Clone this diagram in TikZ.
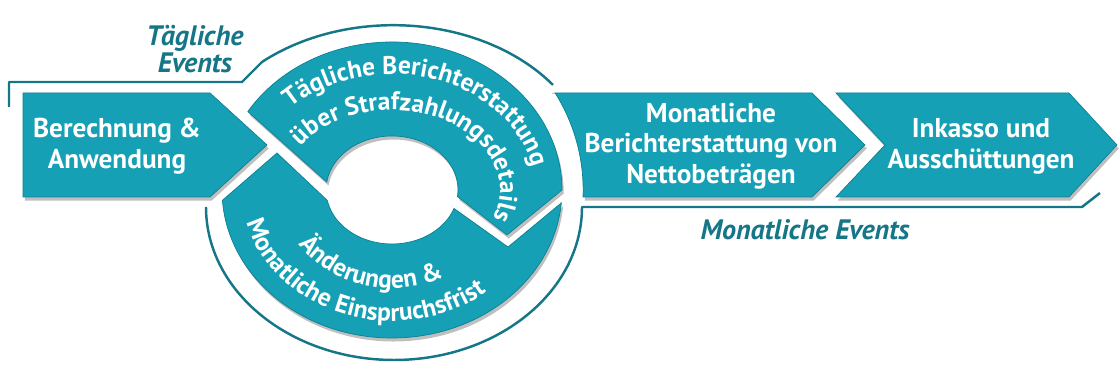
\documentclass[tikz,border=0pt]{standalone}
\usepackage{fontspec}
\setmainfont{PT Sans}
\usetikzlibrary{positioning, decorations.text, shadows}

\definecolor{penaltyteal}{RGB}{22,160,182}
\definecolor{penaltyedge}{RGB}{12,128,146}
\definecolor{labelteal}{RGB}{20,118,134}

\newcommand{\boxfont}{\fontsize{15.5}{17.5}\selectfont\bfseries}
\newcommand{\ringfont}{\fontsize{14.5}{16}\selectfont\bfseries}

\begin{document}
\begin{tikzpicture}[
            x=0.02cm, y=0.02cm,
            stepshape/.style={fill=penaltyteal, draw=penaltyedge, line width=0.4pt,
                drop shadow={shadow xshift=1pt, shadow yshift=-2pt, opacity=0.25, fill=black}},
            steptext/.style={text=white, align=center, font=\boxfont},
            eventline/.style={draw=labelteal, line width=1.4pt, line join=round},
            eventlabel/.style={text=labelteal, align=center,
                font=\fontsize{16}{14.5}\selectfont\bfseries\itshape},
            ringtext/.style={decorate, decoration={text along path, text align=center,
                text={|\ringfont\color{white}|#1}}},
        ]
        \useasboundingbox (0,0) rectangle (1120,374);
        \coordinate (ring) at (392,184);

        % brackets for the daily and monthly events
        \draw[eventline] (9,267) -- (9,292) -- (242,292) -- (262,312)
            arc[start angle=131, end angle=37, x radius=200, y radius=150];
        \draw[eventline] (1100,181) -- (1082,167) -- (582,167)
            arc[start angle=0, end angle=-180, x radius=188, y radius=153];
        \node[eventlabel] (daily) at (195,325) {Tägliche\\Events};
        \node[eventlabel] (monthly) at (805,144) {Monatliche Events};

        % process steps
        \path[stepshape] (23,281) -- (210,281) -- (267,229) -- (210,177) -- (23,177) -- cycle;
        \node[steptext] (calc) at (117,228) {Berechnung \&\\Anwendung};

        \path[stepshape] (555,281) -- (812,281) -- (865,229) -- (812,177) -- (583,177)
            arc[start angle=-2.2, end angle=31.4, x radius=191, y radius=186] -- cycle;
        \node[steptext] (report) at (711,228) {Monatliche\\Berichterstattung von\\Nettobeträgen};

        \path[stepshape] (836,281) -- (1069,281) -- (1117,229) -- (1069,177) -- (836,177) -- (885,229) -- cycle;
        \node[steptext] (payout) at (981,228) {Inkasso und\\Ausschüttungen};

        % daily cycle
        \begin{scope}[shift={(ring)}]
            \path[stepshape] (148:170 and 148) arc[start angle=148, end angle=0, x radius=170, y radius=148]
                -- (115,-45) -- (-7:66 and 54) arc[start angle=-7, end angle=171.5, x radius=66, y radius=54] -- cycle;
            \path[stepshape] (-5:170 and 148) -- (116,-57) -- (-20:66 and 54)
                arc[start angle=-20, end angle=-169, x radius=66, y radius=54] -- (-115,37) -- (-176:170 and 148)
                arc[start angle=-176, end angle=-5, x radius=170, y radius=148] -- cycle;

            \path[ringtext={Tägliche Berichterstattung}] (150:143 and 116)
                arc[start angle=150, end angle=-5, x radius=143, y radius=116];
            \path[ringtext={über Strafzahlungsdetails}] (165:108 and 80)
                arc[start angle=165, end angle=-38, x radius=108, y radius=80];
            \path[ringtext={Änderungen {\&}}] (195:112 and 98)
                arc[start angle=195, end angle=315, x radius=112, y radius=98];
            \path[ringtext={Monatliche Einspruchsfrist}] (165:150 and 131)
                arc[start angle=165, end angle=337, x radius=150, y radius=131];
        \end{scope}
        \end{tikzpicture}
\end{document}
